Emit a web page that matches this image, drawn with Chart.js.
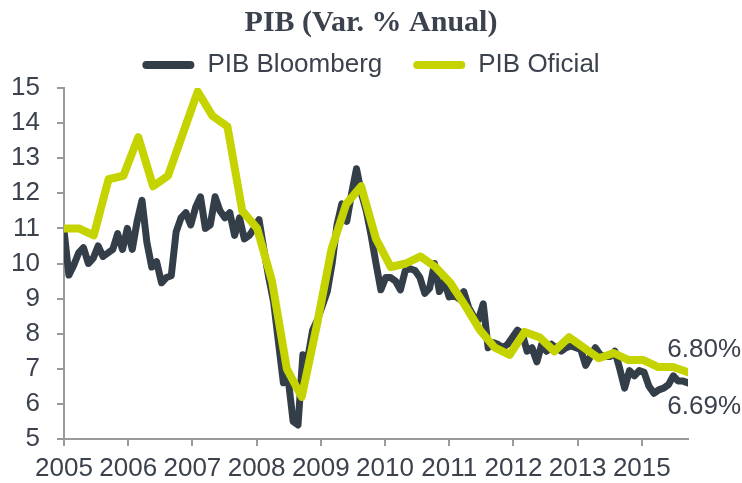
<!DOCTYPE html>
<html>
<head>
<meta charset="utf-8">
<script src="https://cdn.jsdelivr.net/npm/chart.js@4.4.0/dist/chart.umd.min.js"></script>
<style>
  html, body { margin:0; padding:0; background:#fff; }
  #wrap { width:742px; height:483px; }
</style>
</head>
<body>
<div id="wrap"><canvas id="pibChart"></canvas></div>
<script>
// Etiquetas del eje X (tal cual aparecen en el original)
const xTickLabels = ['2005','2006','2007','2008','2009','2010','2011','2012','2013','2015'];

const seriesNames = ['PIB Bloomberg', 'PIB Oficial'];
const endLabels = ['6.69%', '6.80%'];

// PIB Bloomberg, mensual (ene-2005 .. sep-2015)
const pibBloomberg = [
  10.95, 9.67, 9.95, 10.3, 10.45, 10.0, 10.15, 10.5, 10.2, 10.3, 10.4, 10.85,
  10.4, 11.0, 10.4, 11.2, 11.8, 10.6, 9.9, 10.05, 9.45, 9.6, 9.65, 10.9,
  11.3, 11.45, 11.1, 11.6, 11.9, 11.0, 11.1, 11.9, 11.5, 11.3, 11.45, 10.8,
  11.3, 10.7, 10.8, 11.0, 11.25, 10.4, 9.6, 8.9, 7.75, 6.6, 6.7, 5.5,
  5.4, 7.4, 7.3, 8.1, 8.4, 8.8, 9.2, 10.0, 11.1, 11.7, 11.2, 12.0,
  12.7, 12.0, 11.5, 10.8, 10.0, 9.25, 9.6, 9.6, 9.5, 9.25, 9.8, 9.85,
  9.8, 9.6, 9.15, 9.3, 10.0, 9.2, 9.5, 9.05, 9.1, 9.0, 9.2, 8.75,
  8.5, 8.4, 8.85, 7.6, 7.75, 7.7, 7.6, 7.7, 7.9, 8.1, 8.0, 7.5,
  7.6, 7.2, 7.7, 7.5, 7.7, 7.6, 7.5, 7.6, 7.65, 7.6, 7.55, 7.1,
  7.35, 7.6, 7.4, 7.35, 7.35, 7.5, 7.0, 6.45, 6.95, 6.8, 6.95, 6.9,
  6.5, 6.3, 6.4, 6.45, 6.55, 6.8, 6.65, 6.65, 6.6
];

// PIB Oficial, trimestral (1T-2005 .. 3T-2015)
const pibOficial = [
  11.0, 11.0, 10.8, 12.4, 12.5, 13.6, 12.2, 12.5, 13.7, 14.9, 14.2, 13.9,
  11.5, 11.0, 9.5, 7.0, 6.2, 8.2, 10.4, 11.7, 12.2, 10.7, 9.9, 10.0,
  10.2, 9.9, 9.45, 8.8, 8.1, 7.6, 7.4, 8.05, 7.9, 7.5, 7.9, 7.6,
  7.3, 7.45, 7.25, 7.25, 7.05, 7.05, 6.9
];

const DARK = '#333e48';
const LIME = '#c5d400';
const TEXT = '#3b424d';
const AXIS = '#9a9a9a';
const X_TICK_STEP = 13.17; // meses entre etiquetas del eje

Chart.defaults.font.family = '"Liberation Sans", Arial, sans-serif';
Chart.defaults.color = TEXT;

// Etiquetas con el último valor de cada serie
const endLabelPlugin = {
  id: 'endLabels',
  afterDatasetsDraw(chart) {
    const ctx = chart.ctx;
    ctx.save();
    ctx.font = '26px "Liberation Sans", Arial, sans-serif';
    ctx.fillStyle = TEXT;
    ctx.textAlign = 'right';
    ctx.textBaseline = 'middle';
    chart.data.datasets.forEach((ds, i) => {
      const pts = chart.getDatasetMeta(i).data;
      const last = pts[pts.length - 1];
      const dy = i === 0 ? 24 : -22;
      ctx.fillText(endLabels[i], chart.width - 1, last.y + dy);
    });
    ctx.restore();
  }
};

new Chart(document.getElementById('pibChart'), {
  type: 'line',
  data: {
    datasets: [
      {
        label: seriesNames[0],
        data: pibBloomberg.map((v, i) => ({x: i, y: v})),
        borderColor: DARK,
        backgroundColor: DARK,
        borderWidth: 7,
        pointRadius: 0,
        borderJoinStyle: 'round',
        borderCapStyle: 'round',
        tension: 0,
        order: 1,
        xAxisID: 'x'
      },
      {
        label: seriesNames[1],
        data: pibOficial.map((v, i) => ({x: i, y: v})),
        borderColor: LIME,
        backgroundColor: LIME,
        borderWidth: 8,
        pointRadius: 0,
        borderJoinStyle: 'round',
        borderCapStyle: 'round',
        tension: 0,
        order: 0,
        xAxisID: 'x2'
      }
    ]
  },
  options: {
    responsive: true,
    maintainAspectRatio: false,
    animation: false,
    layout: { padding: 0 },
    plugins: {
      title: {
        display: true,
        text: 'PIB (Var. % Anual)',
        color: TEXT,
        font: { family: '"Liberation Serif", "Times New Roman", serif', size: 30, weight: 'bold' },
        padding: { top: 5, bottom: -20 }
      },
      legend: {
        display: true,
        labels: {
          color: TEXT,
          font: { size: 26 },
          boxWidth: 52,
          boxHeight: 8,
          padding: 31,
          generateLabels(chart) {
            const items = Chart.defaults.plugins.legend.labels.generateLabels(chart);
            items.forEach(it => { it.lineWidth = 0; it.borderRadius = 4; });
            return items.sort((a, b) => a.datasetIndex - b.datasetIndex);
          }
        }
      },
      tooltip: { enabled: false }
    },
    scales: {
      x: {
        type: 'linear',
        min: 0,
        max: pibBloomberg.length - 1,
        afterBuildTicks(s) { s.ticks = xTickLabels.map((_, i) => ({ value: i * X_TICK_STEP })); },
        afterFit(s) { s.height = 44; },
        ticks: {
          autoSkip: false, maxRotation: 0, padding: 7,
          font: { size: 26 }, color: TEXT,
          callback: (v, i) => xTickLabels[i]
        },
        grid: { drawOnChartArea: false, tickLength: 7, color: AXIS, lineWidth: 2 },
        border: { display: true, color: AXIS, width: 2 }
      },
      x2: {
        type: 'linear',
        display: false,
        min: 0,
        max: pibOficial.length - 1
      },
      y: {
        min: 5,
        max: 15,
        afterFit(s) { s.width = 64; },
        ticks: { stepSize: 1, padding: 17, font: { size: 26 }, color: TEXT },
        grid: { drawOnChartArea: false, tickLength: 7, color: AXIS, lineWidth: 2 },
        border: { display: true, color: AXIS, width: 2 }
      },
      // espacio a la derecha para las etiquetas finales
      yRight: {
        position: 'right',
        min: 5,
        max: 15,
        afterFit(s) { s.width = 54; },
        ticks: { display: false },
        grid: { display: false },
        border: { display: false }
      }
    }
  },
  plugins: [endLabelPlugin]
});
</script>
</body>
</html>
